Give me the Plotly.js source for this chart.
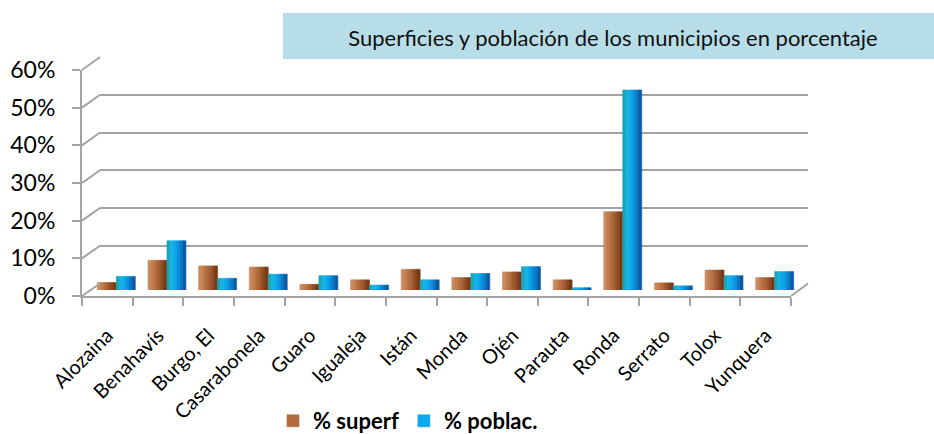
<!DOCTYPE html>
<html>
<head>
<meta charset="utf-8">
<script src="https://cdn.plot.ly/plotly-3.0.1.min.js"></script>
<style>html,body{margin:0;padding:0;background:#fff}#chart{width:934px;height:434px}</style>
</head>
<body>
<div id="chart"></div>
<script>
// ---- data ----
const municipios = ["Alozaina","Benahavís","Burgo, El","Casarabonela","Guaro","Igualeja","Istán","Monda","Ojén","Parauta","Ronda","Serrato","Tolox","Yunquera"];
const superf  = [0.020, 0.079, 0.064, 0.061, 0.015, 0.027, 0.055, 0.033, 0.048, 0.027, 0.208, 0.019, 0.053, 0.033];
const poblac  = [0.036, 0.131, 0.031, 0.042, 0.038, 0.013, 0.027, 0.044, 0.062, 0.006, 0.532, 0.011, 0.038, 0.049];
const yTicks  = [0, 0.1, 0.2, 0.3, 0.4, 0.5, 0.6];
const titleText = "Superficies y población de los municipios en porcentaje";
const seriesNames = ["% superf", "% poblac."];

// ---- geometry helpers (pixels -> paper) ----
const W = 934, H = 434;
const fx = p => p / W;
const fy = p => 1 - p / H;
const FRONT = {x0: 82, x1: 791, y0: 296, y60: 70};
const BACK  = {x0: 100, x1: 808, y0: 283.5, y60: 57};
const MID   = {x0: 91, x1: 800, y0: 290, y60: 290 - 0.6 * 376};
const catRange = [-0.5, municipios.length - 0.5];

const brownShades = ['#ca8c5f','#c07c4c','#b36c3d','#a25c2f','#8e4a22','#773915'];
const blueShades  = ['#1ba4b6','#14b4e2','#0ea8ec','#0a93dd','#0878c7','#0a5ba6'];
const barW = 0.375;

const traces = [];
function addSeries(vals, shades, start, name) {
  const n = shades.length, w = barW / n;
  shades.forEach((c, i) => {
    traces.push({
      type: 'bar', x: municipios, y: vals, xaxis: 'x3', yaxis: 'y3',
      width: w, offset: start + i * w,
      marker: {color: c, line: {width: 0.6, color: c}},
      name: name, legendgroup: name, showlegend: i === 2,
      hoverinfo: 'skip'
    });
  });
}
addSeries(superf, brownShades, -barW, seriesNames[0]);
addSeries(poblac, blueShades, 0, seriesNames[1]);
// invisible traces that create the front and back subplots
traces.push({type: 'scatter', mode: 'markers', x: municipios, y: municipios.map(() => null), xaxis: 'x', yaxis: 'y', showlegend: false, hoverinfo: 'skip'});
traces.push({type: 'scatter', mode: 'markers', x: [], y: [], xaxis: 'x2', yaxis: 'y2', showlegend: false, hoverinfo: 'skip'});

const gridCol = '#a3a3a3';
const shapes = [];
// side wall connectors
yTicks.forEach(v => {
  const yf = FRONT.y0 + (FRONT.y60 - FRONT.y0) * v / 0.6;
  const yb = BACK.y0 + (BACK.y60 - BACK.y0) * v / 0.6;
  shapes.push({type: 'line', xref: 'paper', yref: 'paper', x0: fx(FRONT.x0), y0: fy(yf), x1: fx(BACK.x0), y1: fy(yb), line: {color: gridCol, width: 2}});
});
// right floor edge
shapes.push({type: 'line', xref: 'paper', yref: 'paper', x0: fx(FRONT.x1), y0: fy(FRONT.y0), x1: fx(BACK.x1), y1: fy(BACK.y0), line: {color: gridCol, width: 2}});
// title box
shapes.push({type: 'rect', xref: 'paper', yref: 'paper', x0: fx(283), x1: fx(934), y0: fy(59), y1: fy(13), fillcolor: '#b7dde8', line: {width: 0}, layer: 'above'});

const font = 'Lato, "Open Sans", sans-serif';
const layout = {
  width: W, height: H,
  margin: {l: 0, r: 0, t: 0, b: 0, autoexpand: false},
  paper_bgcolor: '#fff', plot_bgcolor: 'rgba(0,0,0,0)',
  barmode: 'overlay',
  showlegend: true,
  font: {family: font, color: '#000'},
  title: {text: titleText, x: fx(613), xanchor: 'center', y: fy(38), yanchor: 'middle', xref: 'paper', yref: 'paper',
          font: {family: font, size: 22, color: '#111'}},
  legend: {orientation: 'h', x: fx(273), xanchor: 'left', y: fy(421), yanchor: 'middle',
           font: {family: font, size: 22, weight: 'bold', color: '#000'}, bgcolor: 'rgba(0,0,0,0)'},
  xaxis: {domain: [fx(FRONT.x0), fx(FRONT.x1)], anchor: 'y', type: 'category', categoryorder: 'array', categoryarray: municipios,
          range: catRange, tickmode: 'linear', tick0: 0, dtick: 1, tickangle: -45, ticks: 'outside', tickson: 'boundaries', ticklen: 8, tickwidth: 2, tickcolor: gridCol,
          ticklabelstandoff: 18,
          showline: true, linecolor: gridCol, linewidth: 2, showgrid: false, zeroline: false, fixedrange: true, automargin: false,
          tickfont: {family: font, size: 20, color: '#000'}},
  yaxis: {domain: [fy(FRONT.y0), fy(FRONT.y60)], anchor: 'x', range: [0, 0.6001], tickvals: yTicks, tickformat: '.0%',
          ticks: 'outside', ticklen: 8, tickwidth: 2, tickcolor: gridCol, ticklabelstandoff: 12,
          showline: true, linecolor: gridCol, linewidth: 2, showgrid: false, zeroline: false, fixedrange: true, automargin: false,
          tickfont: {family: font, size: 23, color: '#000'}},
  xaxis2: {domain: [fx(BACK.x0), fx(BACK.x1)], anchor: 'y2', range: [0, 1], visible: false, fixedrange: true},
  yaxis2: {domain: [fy(BACK.y0), fy(BACK.y60)], anchor: 'x2', range: [-0.0005, 0.6005], tickvals: yTicks,
           showgrid: true, gridcolor: gridCol, gridwidth: 2, showticklabels: false, ticks: '', showline: false, zeroline: false, fixedrange: true},
  xaxis3: {domain: [fx(MID.x0), fx(MID.x1)], anchor: 'y3', type: 'category', categoryorder: 'array', categoryarray: municipios,
           range: catRange, visible: false, fixedrange: true},
  yaxis3: {domain: [fy(MID.y0), fy(MID.y60)], anchor: 'x3', range: [0, 0.6], visible: false, fixedrange: true},
  shapes: shapes
};

Plotly.newPlot('chart', traces, layout, {displayModeBar: false, staticPlot: true});
</script>
</body>
</html>
